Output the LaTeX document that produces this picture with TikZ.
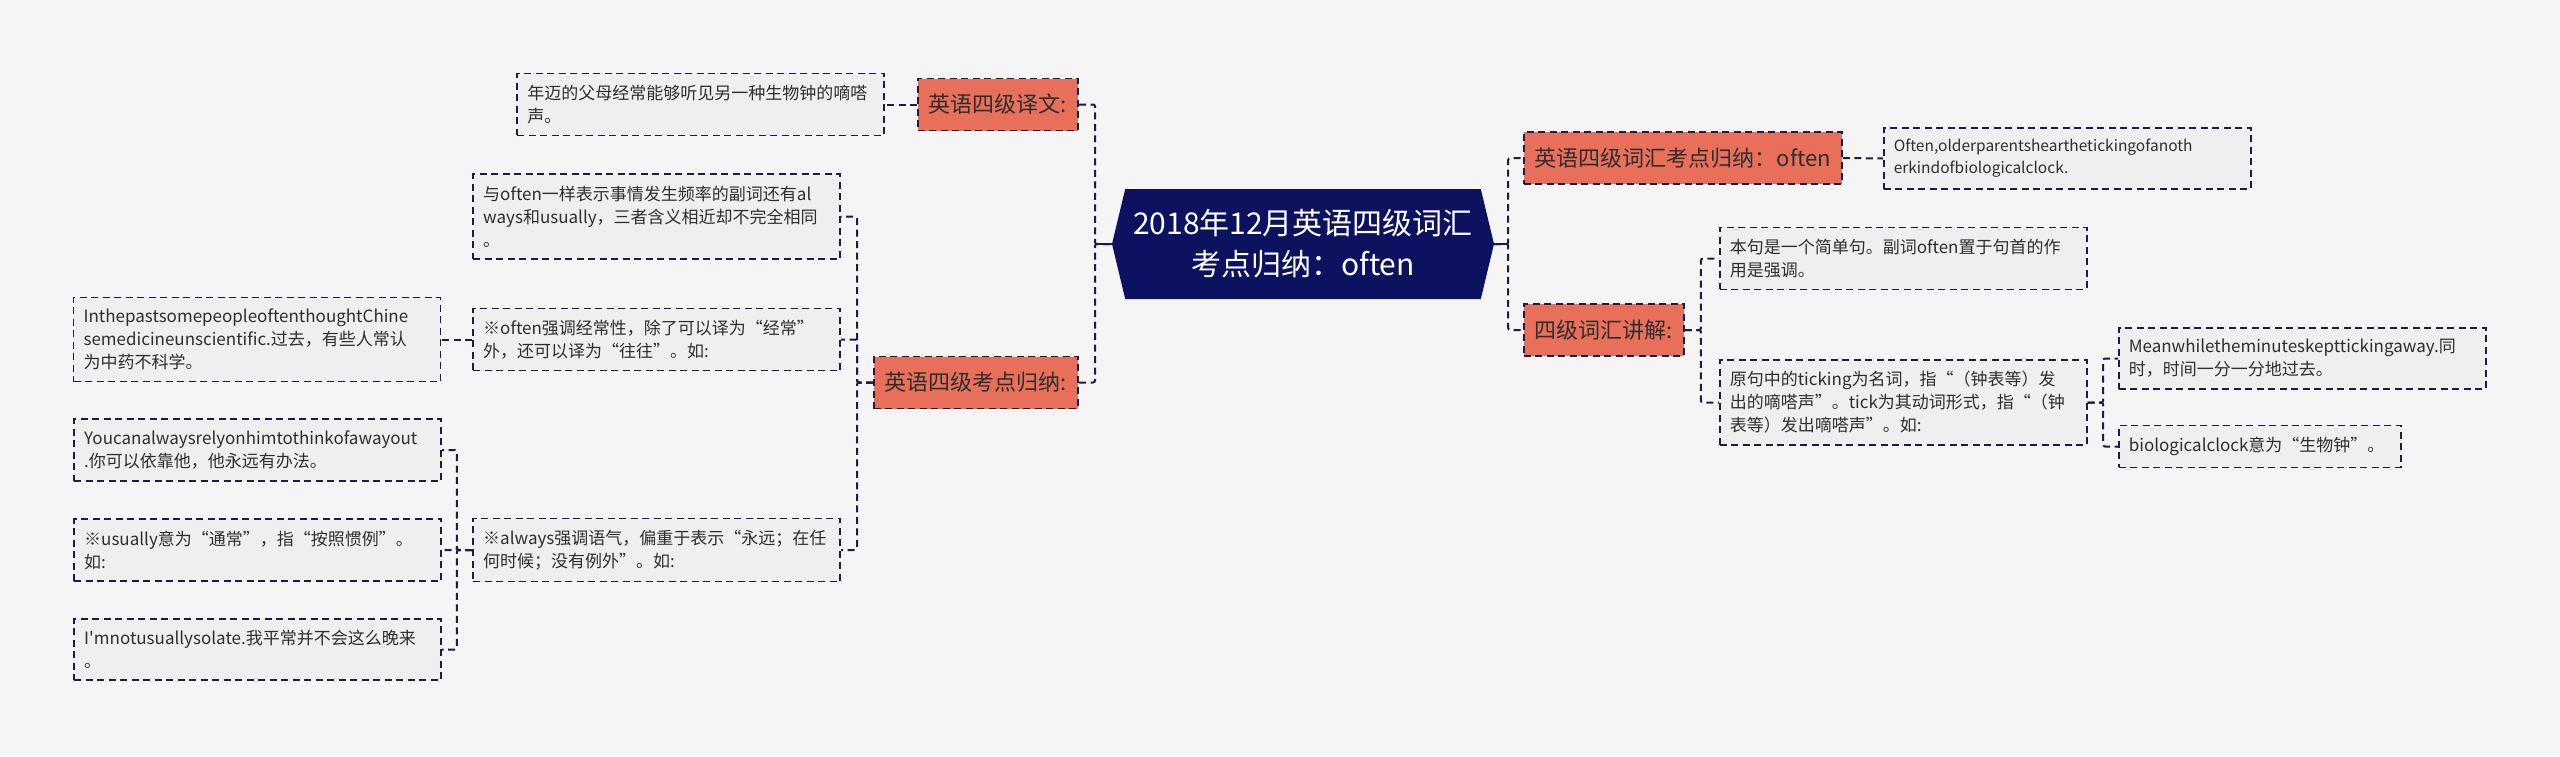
\documentclass[tikz,border=0pt]{standalone}
\usepackage{fontspec}
\setmainfont{Noto Sans CJK SC}[Ligatures=TeXOff]
\usetikzlibrary{positioning, shapes.symbols}

\definecolor{fundo}{HTML}{F5F5F5}
\definecolor{raiz}{HTML}{0C1260}
\definecolor{laranja}{HTML}{E8705A}
\definecolor{folha}{HTML}{EFEFEF}
\definecolor{linha}{HTML}{1C1C48}
\definecolor{texto}{HTML}{2E2E2E}

\begin{document}
\begin{tikzpicture}[
            x=1pt, y=-1pt,
            node distance=32pt,
            % Nó central
            root/.style={
                signal,
                signal to=west and east,
                signal pointer angle=153,
                fill=raiz,
                minimum width=382pt,
                minimum height=110pt,
                inner sep=0pt,
                text=white,
                align=center,
                font=\fontsize{30}{41}\selectfont
            },
            % Blocos laranja dos ramos
            topic/.style={
                draw=linha,
                dash pattern=on 7pt off 4.5pt,
                line width=1.8pt,
                fill=laranja,
                text=texto,
                minimum height=52pt,
                inner xsep=11pt,
                font=\fontsize{22}{26}\selectfont
            },
            % Caixas de texto
            leaf/.style={
                draw=linha,
                dash pattern=on 7pt off 4.5pt,
                line width=1.6pt,
                fill=folha,
                text=texto,
                text width=#1,
                inner xsep=10pt,
                inner ysep=11.5pt,
                align=left,
                font=\fontsize{17}{23}\selectfont
            },
            leaf/.default=347pt,
            % Ligações
            link/.style={
                draw=linha,
                dash pattern=on 7pt off 4.5pt,
                line width=2pt,
                rounded corners=2pt
            },
            stub/.style={
                draw=linha,
                line width=2pt
            }
        ]

            % Fundo
            \fill [fundo] (0,0) rectangle (2560,756);
            \useasboundingbox (0,0) rectangle (2560,756);

            % Nó central
            \node [root] (root) at (1303,244) {2018年12月英语四级词汇\\考点归纳：often};

            % Ramo esquerdo: tradução
            \node [topic, anchor=east] (yiwen) at (1079,104.5) {英语四级译文:};
            \node [leaf, left=32pt of yiwen] (yiwenleaf) {年迈的父母经常能够听见另一种生物钟的嘀嗒\\声。};

            % Ramo esquerdo: pontos
            \node [topic, anchor=east] (kaodian) at (1079,382.5) {英语四级考点归纳:};
            \node [leaf, anchor=east] (kd1) at (841,216.5) {与often一样表示事情发生频率的副词还有al\\ways和usually，三者含义相近却不完全相同\\。};
            \node [leaf, anchor=east] (kd2) at (841,339.5) {※often强调经常性，除了可以译为“经常”\\外，还可以译为“往往”。如:};
            \node [leaf, anchor=east] (kd3) at (841,550) {※always强调语气，偏重于表示“永远；在任\\何时候；没有例外”。如:};
            \node [leaf, left=31pt of kd2] (past) {InthepastsomepeopleoftenthoughtChine\\semedicineunscientific.过去，有些人常认\\为中药不科学。};
            \node [leaf, anchor=east] (youcan) at (442,450) {Youcanalwaysrelyonhimtothinkofawayout\\.你可以依靠他，他永远有办法。};
            \node [leaf, anchor=east] (usually) at (442,550) {※usually意为“通常”，指“按照惯例”。\\如:};
            \node [leaf, anchor=east] (imnot) at (442,649.5) {I'mnotusuallysolate.我平常并不会这么晚来\\。};

            % Ramo direito: vocabulário
            \node [topic, anchor=west] (cihui) at (1523,158) {英语四级词汇考点归纳：often};
            \node [leaf, anchor=west, font=\fontsize{15.5}{22}\selectfont] (cihuileaf) at (1883,158.5) {Often,olderparentshearthetickingofanoth\\erkindofbiologicalclock.};

            % Ramo direito: explicação
            \node [topic, anchor=west] (jiangjie) at (1523,330) {四级词汇讲解:};
            \node [leaf, anchor=west] (jj1) at (1719,258.5) {本句是一个简单句。副词often置于句首的作\\用是强调。};
            \node [leaf, anchor=west] (jj2) at (1719,402.5) {原句中的ticking为名词，指“（钟表等）发\\出的嘀嗒声”。tick为其动词形式，指“（钟\\表等）发出嘀嗒声”。如:};
            \node [leaf, anchor=west] (mean) at (2118,358.5) {Meanwhiletheminuteskepttickingaway.同\\时，时间一分一分地过去。};
            \node [leaf=262pt, anchor=west] (bio) at (2118,446.5) {biologicalclock意为“生物钟”。};

            % Ligações
            \foreach \t in {yiwen, kaodian}
                \draw [link] (\t.east) -- ++(16,0) |- (root.west);
            \foreach \t in {cihui, jiangjie}
                \draw [link] (root.east) -- ++(14,0) |- (\t.west);
            \draw [stub] (root.west) -- ++(-17,0);
            \draw [stub] (root.east) -- ++(14,0);

            \draw [link] (yiwen.west) -- (yiwenleaf.east);
            \foreach \t in {kd1, kd2, kd3}
                \draw [link] (kaodian.west) -- ++(-16,0) |- (\t.east);
            \draw [link] (kd2.west) -- (past.east);
            \foreach \t in {youcan, usually, imnot}
                \draw [link] (kd3.west) -- ++(-15.5,0) |- (\t.east);

            \draw [link] (cihui.east) -- (cihuileaf.west);
            \foreach \t in {jj1, jj2}
                \draw [link] (jiangjie.east) -- ++(16,0) |- (\t.west);
            \foreach \t in {mean, bio}
                \draw [link] (jj2.east) -- ++(15.5,0) |- (\t.west);

        \end{tikzpicture}
\end{document}
